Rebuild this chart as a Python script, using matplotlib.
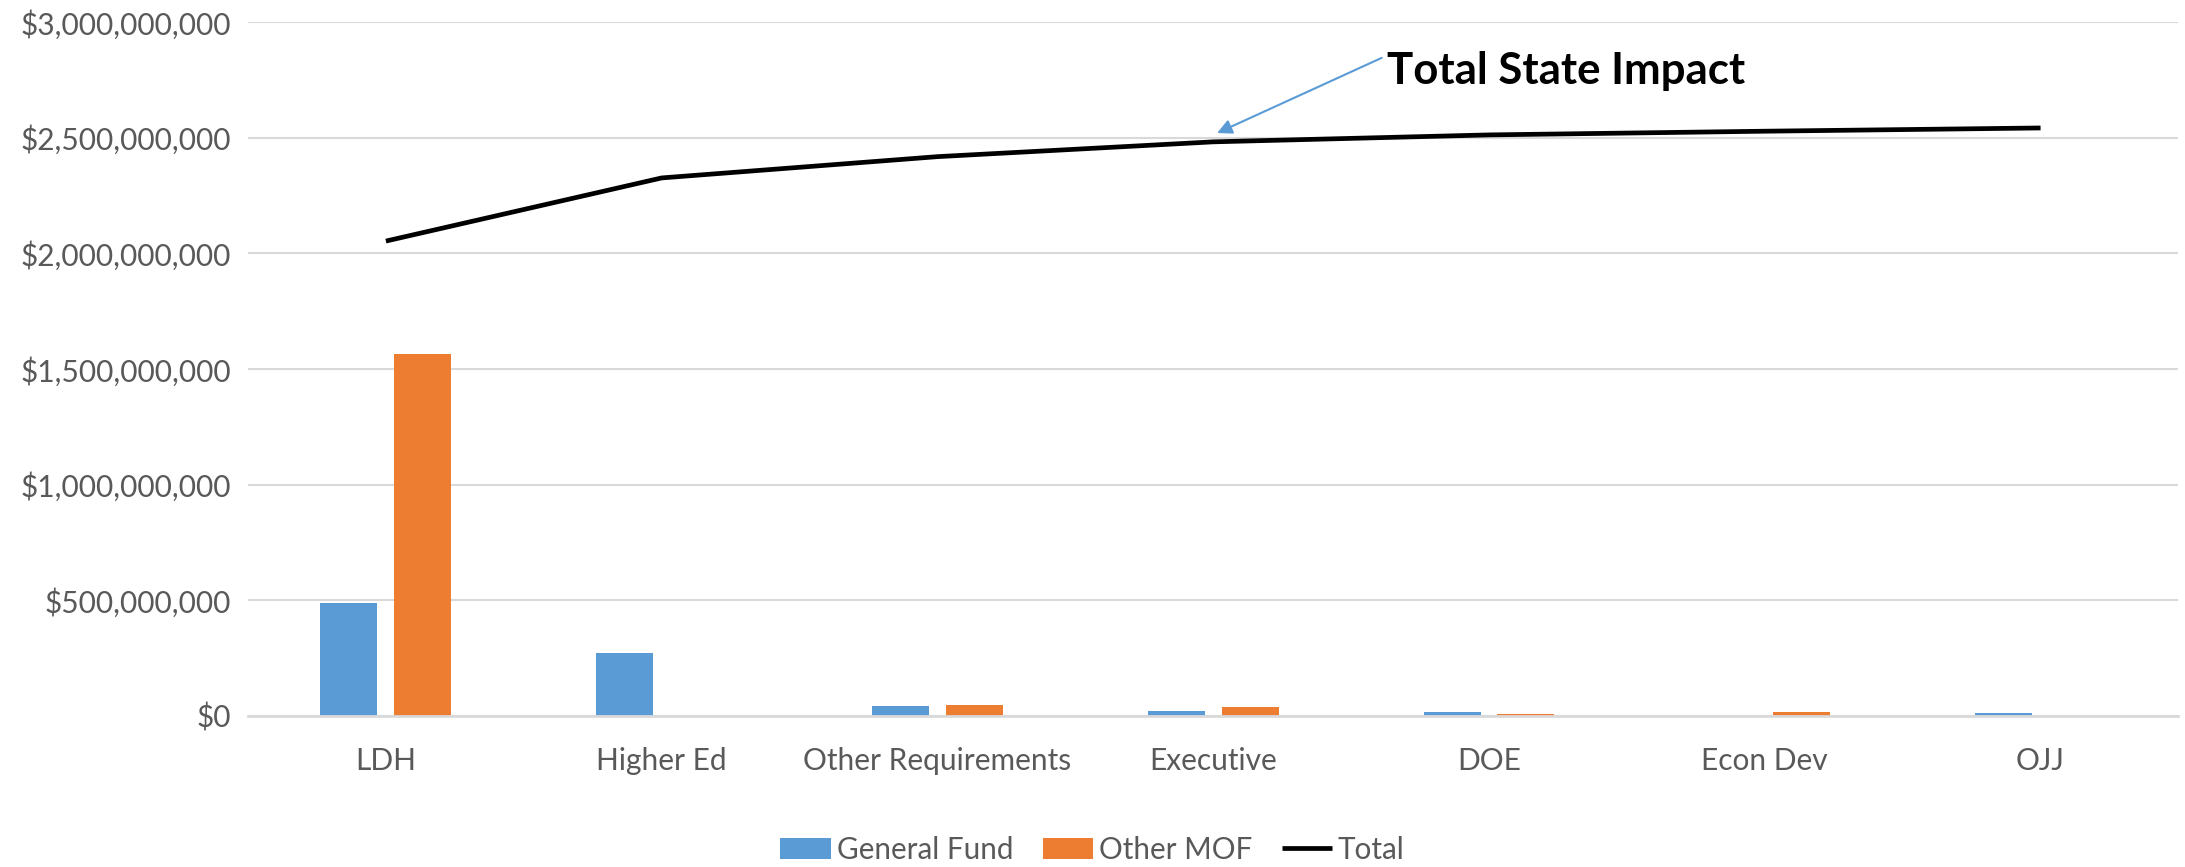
import matplotlib.pyplot as plt
import numpy as np

# values in dollars
categories = ["LDH", "Higher Ed", "Other Requirements", "Executive", "DOE", "Econ Dev", "OJJ"]
general_fund = [489e6, 273e6, 43e6, 22e6, 17e6, 0, 13e6]
other_mof = [1563e6, 0, 47e6, 39e6, 9e6, 16e6, 0]
total = [2053e6, 2326e6, 2418e6, 2482e6, 2512e6, 2528e6, 2542e6]

blue = "#5B9BD5"
orange = "#ED7D31"
grey_text = "#595959"

plt.rcParams['font.family'] = ['Lato', 'DejaVu Sans']

fig = plt.figure(figsize=(21.85, 8.67), dpi=100)
ax = fig.add_axes([0.1135, 0.1742, 0.8835, 0.8004])

x = np.arange(len(categories))
w = 0.207
off = 0.134
b1 = ax.bar(x - off, general_fund, w, color=blue, label="General Fund", zorder=2)
b2 = ax.bar(x + off, other_mof, w, color=orange, label="Other MOF", zorder=2)
ln, = ax.plot(x, total, color="black", lw=3.4, label="Total", zorder=3, solid_capstyle="butt")

ax.set_xlim(-0.5, len(categories) - 0.5)
ax.set_ylim(0, 3e9)
ax.set_yticks(np.arange(0, 3.01e9, 5e8))
ax.yaxis.set_major_formatter(plt.FuncFormatter(lambda v, p: f"${v:,.0f}"))
ax.set_xticks(x, labels=categories)
ax.tick_params(axis="both", length=0, labelsize=21.5, labelcolor=grey_text)
ax.tick_params(axis="x", pad=22)
ax.tick_params(axis="y", pad=12)
ax.grid(axis="y", color="#D9D9D9", lw=1.5, zorder=0)
for s in ["top", "right", "left"]:
    ax.spines[s].set_visible(False)
ax.spines["bottom"].set_color("#D9D9D9")
ax.spines["bottom"].set_linewidth(2)

# annotation
ax.annotate("", xy=(3.005, 2.515e9), xytext=(3.62, 2.85e9),
            arrowprops=dict(arrowstyle="-|>", color=blue, lw=1.5, mutation_scale=22))
ax.text(3.63, 2.79e9, "Total State Impact", fontsize=31.5, fontweight="bold",
        ha="left", va="center", color="black")

fig.legend([b1, b2, ln], ["General Fund", "Other MOF", "Total"],
           loc="center", bbox_to_anchor=(0.5, 0.02), ncol=3, frameon=False,
           fontsize=21.3, labelcolor=grey_text, handlelength=1.7, handleheight=0.75,
           columnspacing=1.0, handletextpad=0.2)

fig.savefig("out.png", dpi=100)
